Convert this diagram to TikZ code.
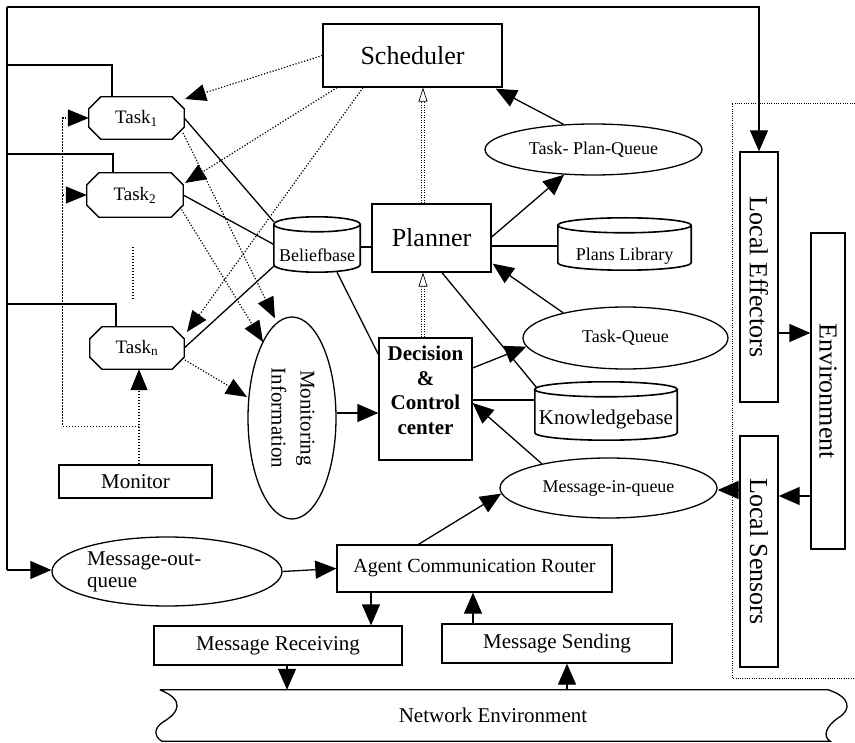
\documentclass[tikz,border=0pt]{standalone}
\usepackage{fontspec}
\setmainfont{Liberation Serif}
\usepackage{graphicx}
\usetikzlibrary{arrows.meta,shapes.geometric,calc}

% cylinder outline drawn over an (invisible) rectangular node
\newcommand\drawdrum[2]{%
  \draw[drumline] let \p1=(#1.north west), \p2=(#1.south east), \n1={(\x2-\x1)/2} in
    (\x1,{\y1-#2}) -- (\x1,{\y2+#2})
    arc[start angle=180, end angle=360, x radius=\n1*1pt, y radius=#2]
    -- (\x2,{\y1-#2})
    ({\x1+\n1*1pt},{\y1-#2}) ellipse[x radius=\n1*1pt, y radius=#2];}

% octagon outline with corners cut by #2 around a rectangular node
\newcommand\drawoct[2]{%
  \draw[wire] ($(#1.north west)+(#2,0)$) -- ($(#1.north east)+(-#2,0)$)
    -- ($(#1.north east)+(0,#2)$) -- ($(#1.south east)+(0,-#2)$)
    -- ($(#1.south east)+(-#2,0)$) -- ($(#1.south west)+(#2,0)$)
    -- ($(#1.south west)+(0,-#2)$) -- ($(#1.north west)+(0,#2)$) -- cycle;}

\begin{document}
\begin{tikzpicture}[x=1pt,y=-1pt,
  wire/.style={line width=1.3pt},
  box/.style={draw, line width=1.3pt, rectangle, inner sep=0pt, fill=white},
  oval/.style={draw, line width=1.3pt, ellipse, inner sep=0pt, fill=white},
  tasknode/.style={rectangle, inner sep=0pt, font=\fontsize{19}{22}\selectfont},
  drumbase/.style={rectangle, inner sep=0pt},
  drumline/.style={line width=1.6pt, fill=white},
  arr/.style={line width=1.3pt, -{Triangle[length=21pt,width=18pt]}},
  dotline/.style={line width=1.2pt, dash pattern=on 1.2pt off 1.8pt},
  dotarr/.style={dotline, -{Triangle[length=21pt,width=17pt]}},
  frameline/.style={line width=0.9pt, dash pattern=on 0.9pt off 1.4pt},
  dbl/.style={double, line width=0.7pt, double distance=2.2pt,
    dash pattern=on 1pt off 1.5pt, -{Triangle[open,length=14pt,width=9pt]}},
  big/.style={font=\fontsize{26}{31}\selectfont},
  mid/.style={font=\fontsize{21}{25}\selectfont},
  small/.style={font=\fontsize{18}{21}\selectfont}]

\fill[white] (0,0) rectangle (855,743);
\useasboundingbox (0,0) rectangle (855,743);

% ---------- nodes ----------
\node[box, big, minimum width=179pt, minimum height=63pt] (sched) at (412.5,55.5) {Scheduler};
\node[box, big, minimum width=119pt, minimum height=68pt] (planner) at (431.5,238) {Planner};
\node[box, align=center, font=\bfseries\fontsize{21}{24.5}\selectfont,
      minimum width=93pt, minimum height=122pt] (dcc) at (425.5,399) {Decision\\\&\\Control\\center\\[-7pt]};

\node[tasknode, minimum width=95pt, minimum height=42pt] (t1) at (136.5,118) {Task\textsubscript{1}};
\node[tasknode, minimum width=96pt, minimum height=44pt] (t2) at (135,195) {Task\textsubscript{2}};
\node[tasknode, minimum width=94pt, minimum height=42pt] (tn) at (137,348) {Task\textsubscript{n}};
\drawoct{t1}{12}
\drawoct{t2}{12}
\drawoct{tn}{12}

\node[box, mid, minimum width=153pt, minimum height=33pt] (monitor) at (135.5,481.5) {Monitor};
\node[oval, minimum width=88pt, minimum height=202pt] (moninfo) at (292,418)
  {\rotatebox{-90}{\fontsize{21}{29}\selectfont\begin{tabular}{@{}c@{}}Monitoring\\Information\end{tabular}}};

\node[drumbase, minimum width=86pt, minimum height=55pt] (belief) at (317,244.5) {};
\node[drumbase, minimum width=133pt, minimum height=52pt] (plans) at (624.5,244) {};
\node[drumbase, minimum width=142pt, minimum height=58pt] (know) at (606,411) {};
\drawdrum{belief}{7.5pt}
\drawdrum{plans}{7.5pt}
\drawdrum{know}{7.5pt}
\node[small] (belieftext) at (317,255) {Beliefbase};
\node[small] (planstext) at (624.5,256) {Plans Library};
\node[mid] (knowtext) at (606,419) {Knowledgebase};

\node[oval, small, minimum width=217pt, minimum height=51pt] (tpq) at (593.5,149.5) {Task- Plan-Queue};
\node[oval, small, minimum width=205pt, minimum height=62pt] (tq) at (625.5,338) {Task-Queue};
\node[oval, small, minimum width=217pt, minimum height=60pt] (miq) at (608.5,488) {Message-in-queue};
\node[oval, minimum width=230pt, minimum height=69pt, text width=160pt, align=left,
      font=\fontsize{21}{22}\selectfont] (mout) at (167,571.5) {Message-out-\\queue};

\node[box, big, minimum width=38pt, minimum height=250pt] (leff) at (759,277) {\rotatebox{-90}{Local Effectors}};
\node[box, big, minimum width=38pt, minimum height=231pt] (lsen) at (759,551.5) {\rotatebox{-90}{Local Sensors}};
\node[box, big, minimum width=34pt, minimum height=316pt] (env) at (828,391) {\rotatebox{-90}{Environment}};

\node[box, font=\fontsize{20}{24}\selectfont, minimum width=275pt, minimum height=47pt] (acr) at (474.5,568.5) {Agent Communication Router};
\node[box, mid, minimum width=248pt, minimum height=39pt] (mrec) at (278,645.5) {Message Receiving};
\node[box, mid, minimum width=230pt, minimum height=39pt] (msend) at (557,643.5) {Message Sending};
\node[drumbase, mid, minimum width=670pt, minimum height=51pt] (net) at (493,715.5) {Network Environment};

% network band with wavy ends
\draw[wire] ($(net.north west)+(2,0)$) -- (net.north east)
  .. controls ($(net.north east)+(22,7)$) and ($(net.north east)+(24,20)$) .. ($(net.north east)+(10,28)$)
  .. controls ($(net.south east)+(-2,-15)$) and ($(net.south east)+(-6,-5)$) .. ($(net.south east)+(2,0)$)
  -- ($(net.south west)+(4,0)$)
  .. controls ($(net.south west)+(-4,-5)$) and ($(net.south west)+(-4,-13)$) .. ($(net.south west)+(5,-19)$)
  .. controls ($(net.south west)+(22,-29)$) and ($(net.north west)+(27,10)$) .. ($(net.north west)+(2,0)$);

% dotted frame around effectors and sensors
\draw[frameline] (855,103) -- (732,103) -- (732,678) -- (855,678);

% ---------- task bus ----------
\coordinate (busTop) at (7,7);
\coordinate (busBot) at (7,570);
\draw[wire] (busTop) -- (busBot);
\draw[arr] (busTop) -| (leff.north);
\draw[arr] (busBot) -- (busBot -| mout.west);
\draw[wire] (busTop |- 0,65) -| ($(t1.north)+(-24.5,0)$);
\draw[wire] (busTop |- 0,154) -| ($(t2.north)+(-22,0)$);
\draw[wire] (busTop |- 0,304) -| ($(tn.north)+(-21,0)$);

% ---------- solid links ----------
\draw[wire] (t1.east) -- ($(belief.north west)+(0,5)$);
\draw[wire] (t2.east) -- (belief.west);
\draw[wire] (tn.east) -- ($(belief.south west)+(0,-6)$);
\draw[wire] ($(belief.east)+(0,2.5)$) -- ($(planner.west)+(0,9)$);
\draw[wire] ($(belief.south)+(20,0)$) -- ($(dcc.north west)+(1,19)$);
\draw[wire] ($(planner.south)+(10.5,0)$) -- ($(know.north west)+(2,6)$);
\draw[wire] ($(planner.east)+(0,8)$) -- ($(plans.west)+(0,2)$);
\draw[wire] ($(know.west)+(0,-11)$) -- ($(dcc.east)+(0,1)$);

% ---------- solid arrows ----------
\draw[arr] ($(planner.east)+(0,-1)$) -- (tpq);
\draw[arr] (tpq.140) -- ($(sched.south east)+(-7,1)$);
\draw[arr] (tq.158) -- ($(planner.south east)+(1,-9)$);
\draw[arr] ($(dcc.east)+(0,-31)$) -- (tq.185);
\draw[arr] (miq.160) -- ($(dcc.east)+(0,4)$);
\draw[arr] ($(acr.north)+(-56,0)$) -- (miq.183);
\draw[arr] (mout.east) -- (acr.west);
\draw[arr] ($(moninfo.east)+(0,-5)$) -- ($(dcc.west)+(0,14)$);

\coordinate (rx) at ($(acr.south)+(-103.5,0)$);
\draw[arr] (rx) -- (rx |- mrec.north);
\coordinate (rn) at ($(mrec.south)+(9,0)$);
\draw[arr] (rn) -- (rn |- net.north);
\coordinate (sx) at ($(msend.north)+(-84,0)$);
\draw[arr] (sx) -- (sx |- acr.south);
\coordinate (sn) at ($(msend.south)+(10,0)$);
\draw[arr] (sn |- net.north) -- (sn);

\coordinate (le) at ($(leff.east)+(0,56)$);
\draw[arr] (le) -- (le -| env.west);
\coordinate (es) at ($(env.west)+(0,105)$);
\draw[arr] (es) -- (es -| lsen.east);
\coordinate (sm) at ($(lsen.west)+(0,-61.5)$);
\draw[arr] (sm) -- (sm -| miq.east);

% ---------- dotted arrows ----------
\draw[dotarr] (sched.west) -- ($(t1)+(48.5,-19)$);
\draw[dotarr] ($(sched.south)+(-75.5,0)$) -- ($(t2)+(50,-12)$);
\draw[dotarr] ($(sched.south)+(-49.5,0)$) -- ($(tn)+(50,-16)$);
\draw[dotarr] ($(t1)+(46.5,15)$) -- ($(moninfo.north)+(-17,2)$);
\draw[dotarr] ($(t2)+(45,12)$) -- ($(moninfo)+(-29,-76)$);
\draw[dotarr] ($(tn)+(48,12)$) -- ($(moninfo)+(-45,-21)$);

\coordinate (mt) at ($(monitor.north)+(3.5,0)$);
\draw[dotarr] (mt) -- (mt |- tn.south);
\coordinate (loop) at ($(mt)+(0,-38)$);
\draw[dotarr] (loop) -| ($(t1.west)+(-26,0)$) -- (t1.west);
\draw[dotarr] ($(t2.west)+(-24,0)$) -- (t2.west);
\draw[dotline] ($(t2.south)+(-2,30)$) -- ($(t2.south)+(-2,83)$);

% ---------- double dotted control links ----------
\coordinate (dd) at ($(dcc.north)+(-2.5,0)$);
\draw[dbl] (dd) -- (dd |- planner.south);
\draw[dbl] (dd |- planner.north) -- (dd |- sched.south);

\end{tikzpicture}
\end{document}
